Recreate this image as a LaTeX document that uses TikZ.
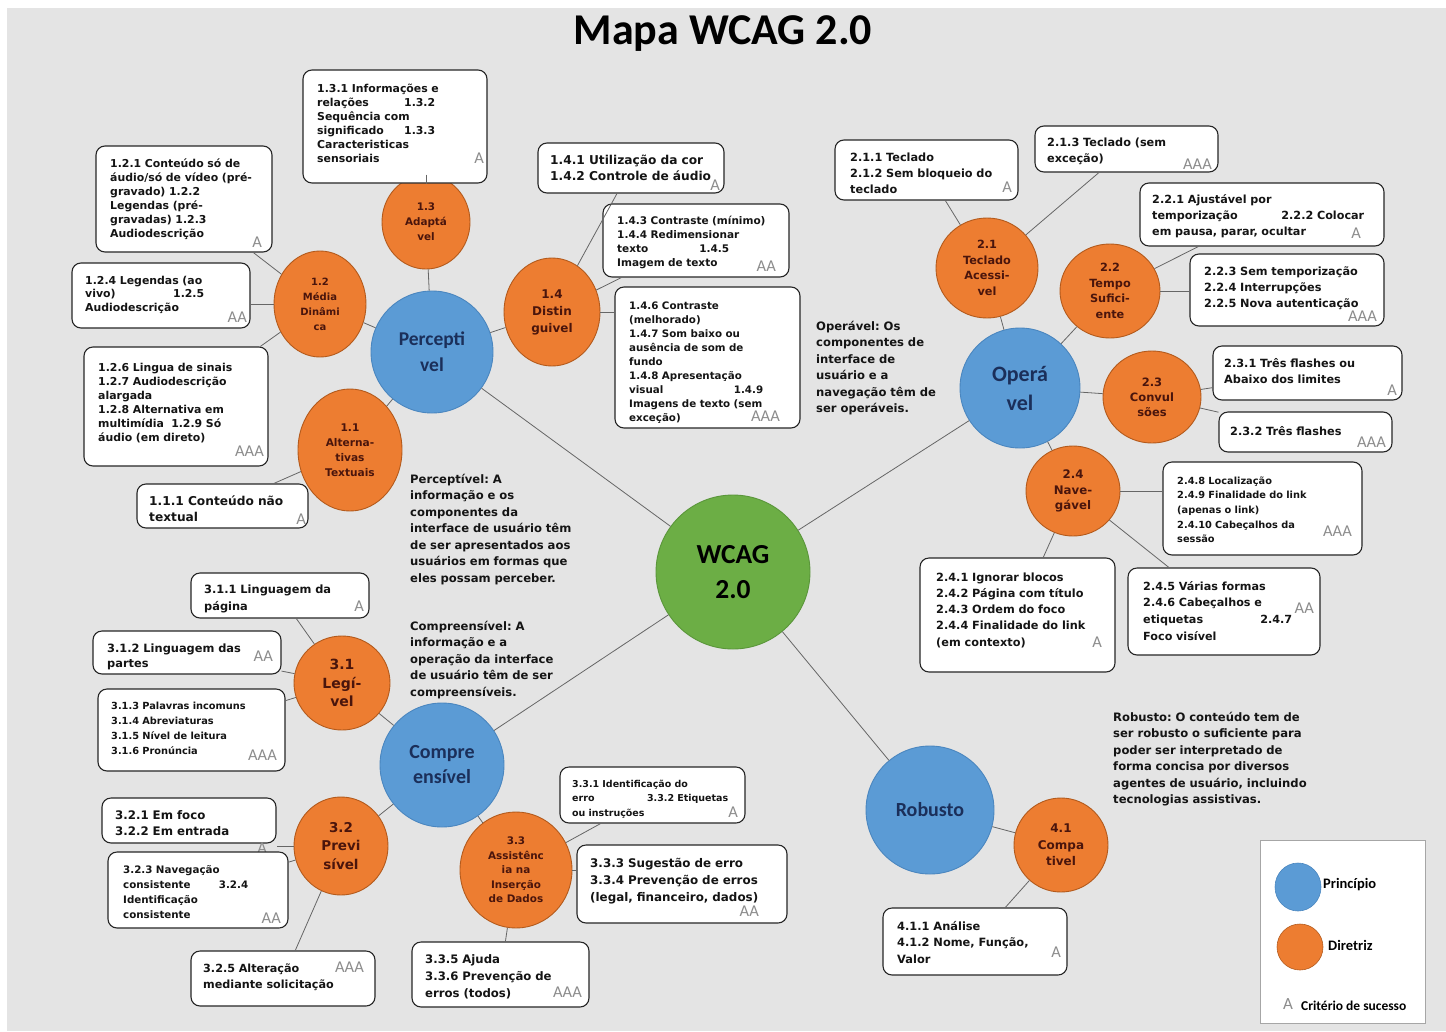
\documentclass[tikz,border=0pt]{standalone}
\usepackage{fontspec}
\setmainfont{DejaVu Sans}
\newfontfamily\calfont{Carlito}
\usetikzlibrary{shapes.geometric,fit}
\frenchspacing

\definecolor{bggray}{HTML}{E4E4E4}
\definecolor{pblue}{HTML}{5B9BD5}
\definecolor{pblueedge}{HTML}{4A86BF}
\definecolor{gorange}{HTML}{ED7D31}
\definecolor{gorangeedge}{HTML}{B35A1C}
\definecolor{wgreen}{HTML}{6CAE45}
\definecolor{wgreenedge}{HTML}{5A963A}
\definecolor{navy}{HTML}{1B2F5A}
\definecolor{maroon}{HTML}{4A150C}
\definecolor{critgray}{HTML}{8C8C8C}
\definecolor{linkgray}{HTML}{666666}

\newcommand\fs[2]{\fontsize{#1}{#2}\selectfont}
% a line with a wide justified gap between its two parts
\newcommand\spread[3]{\makebox[#1pt][l]{#2\hfill #3}}

\tikzset{
  principle/.style={ellipse, fill=pblue, draw=pblueedge, line width=0.9pt,
    inner sep=0pt, text=navy, align=center},
  guide/.style={ellipse, fill=gorange, draw=gorangeedge, line width=0.9pt,
    inner sep=0pt, text=maroon, align=center},
  cbox/.style={rectangle, rounded corners=9pt, draw=black!85, line width=1.1pt,
    fill=white, inner sep=0pt},
  ctext/.style={anchor=base west, inner sep=0pt, align=left, text width=#1pt,
    text=black!92},
  level/.style={anchor=east, inner sep=0pt, text=critgray,
    font=\calfont\fs{16.5}{16}},
  conn/.style={draw=linkgray, line width=0.8pt},
  para/.style={anchor=base west, inner sep=0pt, align=left, text width=#1pt,
    text=black!92, font=\bfseries\fs{11.6}{16.5}},
}

\begin{document}
\begin{tikzpicture}[x=1pt,y=-1pt]
\useasboundingbox (0,0) rectangle (1446,1031);
\fill[white] (0,0) rectangle (1446,1031);
\fill[bggray] (7,8) rectangle (1446,1031);

% title
\node[inner sep=0pt, font=\calfont\bfseries\fs{44}{44}] (title) at (723,34) {Mapa WCAG 2.0};

% ---------------- circles ----------------
\node[ellipse, fill=wgreen, draw=wgreenedge, line width=0.9pt, inner sep=0pt,
  minimum width=154pt, minimum height=154pt, align=center,
  font=\calfont\bfseries\fs{27.5}{35}] (wcag) at (733,572) {WCAG\\2.0};

\node[principle, minimum width=122pt, minimum height=122pt,
  font=\calfont\bfseries\fs{19.5}{26}] (perc) at (432,352) {Percepti\\vel};
\node[principle, minimum width=120pt, minimum height=120pt,
  font=\calfont\bfseries\fs{22}{29}] (oper) at (1020,388) {Operá\\vel};
\node[principle, minimum width=124pt, minimum height=124pt,
  font=\calfont\bfseries\fs{20}{25}] (comp) at (442,765) {Compre\\ensível};
\node[principle, minimum width=128pt, minimum height=128pt,
  font=\calfont\bfseries\fs{20}{25}] (rob) at (930,810) {Robusto};

\node[guide, minimum width=88pt, minimum height=94pt, font=\bfseries\fs{10.4}{15}] (n13) at (426,222) {1.3\\Adaptá\\vel};
\node[guide, minimum width=92pt, minimum height=106pt, font=\bfseries\fs{10}{15}] (n12) at (320,304) {1.2\\Média\\Dinâmi\\ca};
\node[guide, minimum width=96pt, minimum height=108pt, font=\bfseries\fs{12}{17}] (n14) at (552,312) {1.4\\Distin\\guivel};
\node[guide, minimum width=104pt, minimum height=122pt, font=\bfseries\fs{10.6}{15}] (n11) at (350,450) {1.1\\Alterna-\\tivas\\Textuais};

\node[guide, minimum width=102pt, minimum height=100pt, font=\bfseries\fs{11.3}{15.5}] (n21) at (987,268) {2.1\\Teclado\\Acessi-\\vel};
\node[guide, minimum width=100pt, minimum height=94pt, font=\bfseries\fs{11.3}{15.5}] (n22) at (1110,291) {2.2\\Tempo\\Sufici-\\ente};
\node[guide, minimum width=98pt, minimum height=92pt, font=\bfseries\fs{11.5}{15}] (n23) at (1152,397) {2.3\\Convul\\sões};
\node[guide, minimum width=94pt, minimum height=90pt, font=\bfseries\fs{11.8}{15.5}] (n24) at (1073,491) {2.4\\Nave-\\gável};

\node[guide, minimum width=96pt, minimum height=94pt, font=\bfseries\fs{14}{18.5}] (n31) at (342,683) {3.1\\Legí-\\vel};
\node[guide, minimum width=94pt, minimum height=98pt, font=\bfseries\fs{13.5}{18.5}] (n32) at (341,846) {3.2\\Previ\\sível};
\node[guide, minimum width=112pt, minimum height=116pt, font=\bfseries\fs{10.4}{14.5}] (n33) at (516,870) {3.3\\Assistênc\\ia na\\Inserção\\de Dados};
\node[guide, minimum width=94pt, minimum height=94pt, font=\bfseries\fs{12}{16.5}] (n41) at (1061,845) {4.1\\Compa\\tivel};

% ---------------- success criteria boxes ----------------
\node[cbox, fit={(303,70) (487,183)}] (b131) {};
\node[ctext=160, font=\bfseries\fs{10.9}{14}] (t131) at (317,92)
  {1.3.1 Informações e\\\spread{118}{relações}{1.3.2}\\Sequência com\\\spread{118}{significado}{1.3.3}\\Caracteristicas\\sensoriais};
\node[level] (l131) at (484,158) {A};

\node[cbox, fit={(96,146) (272,252)}] (b121) {};
\node[ctext=160, font=\bfseries\fs{10.9}{14}] (t121) at (110,167)
  {1.2.1 Conteúdo só de\\áudio/só de vídeo (pré-\\gravado) 1.2.2\\Legendas (pré-\\gravadas) 1.2.3\\Audiodescrição};
\node[level] (l121) at (262,242) {A};

\node[cbox, fit={(72,263) (250,328)}] (b124) {};
\node[ctext=160, font=\bfseries\fs{10.9}{13.5}] (t124) at (85,284)
  {1.2.4 Legendas (ao\\\spread{119}{vivo)}{1.2.5}\\Audiodescrição};
\node[level] (l124) at (247,317) {AA};

\node[cbox, fit={(84,347) (268,466)}] (b126) {};
\node[ctext=165, font=\bfseries\fs{10.9}{14}] (t126) at (98,371)
  {1.2.6 Lingua de sinais\\1.2.7 Audiodescrição\\alargada\\1.2.8 Alternativa em\\multimídia\ \ 1.2.9 Só\\áudio (em direto)};
\node[level] (l126) at (264,451) {AAA};

\node[cbox, fit={(137,484) (308,528)}] (b111) {};
\node[ctext=155, font=\bfseries\fs{12.2}{16}] (t111) at (149,505)
  {1.1.1 Conteúdo não\\textual};
\node[level] (l111) at (306,519) {A};

\node[cbox, fit={(538,143) (724,193)}] (b141) {};
\node[ctext=175, font=\bfseries\fs{12.2}{16}] (t141) at (550,164)
  {1.4.1 Utilização da cor\\1.4.2 Controle de áudio};
\node[level] (l141) at (720,185) {A};

\node[cbox, fit={(603,204) (789,277)}] (b143) {};
\node[ctext=170, font=\bfseries\fs{10.5}{14}] (t143) at (617,224)
  {1.4.3 Contraste (mínimo)\\1.4.4 Redimensionar\\\spread{112}{texto}{1.4.5}\\Imagem de texto};
\node[level] (l143) at (776,266) {AA};

\node[cbox, fit={(615,287) (800,428)}] (b146) {};
\node[ctext=165, font=\bfseries\fs{10.3}{14}] (t146) at (629,309)
  {1.4.6 Contraste\\(melhorado)\\1.4.7 Som baixo ou\\ausência de som de\\fundo\\1.4.8 Apresentação\\\spread{134}{visual}{1.4.9}\\Imagens de texto (sem\\exceção)};
\node[level] (l146) at (780,416) {AAA};

\node[cbox, fit={(835,140) (1018,200)}] (b211) {};
\node[ctext=165, font=\bfseries\fs{11.3}{16}] (t211) at (850,161)
  {2.1.1 Teclado\\2.1.2 Sem bloqueio do\\teclado};
\node[level] (l211) at (1012,187) {A};

\node[cbox, fit={(1035,126) (1218,172)}] (b213) {};
\node[ctext=165, font=\bfseries\fs{11.3}{16}] (t213) at (1047,146)
  {2.1.3 Teclado (sem\\exceção)};
\node[level] (l213) at (1212,164) {AAA};

\node[cbox, fit={(1140,183) (1384,246)}] (b221) {};
\node[ctext=225, font=\bfseries\fs{11.2}{16}] (t221) at (1152,203)
  {2.2.1 Ajustável por\\\spread{212}{temporização}{2.2.2 Colocar}\\em pausa, parar, ocultar};
\node[level] (l221) at (1361,233) {A};

\node[cbox, fit={(1190,254) (1384,326)}] (b223) {};
\node[ctext=178, font=\bfseries\fs{11.3}{16}] (t223) at (1204,275)
  {2.2.3 Sem temporização\\2.2.4 Interrupções\\2.2.5 Nova autenticação};
\node[level] (l223) at (1377,316) {AAA};

\node[cbox, fit={(1213,346) (1402,400)}] (b231) {};
\node[ctext=170, font=\bfseries\fs{11.3}{16}] (t231) at (1224,367)
  {2.3.1 Três flashes ou\\Abaixo dos limites};
\node[level] (l231) at (1397,390) {A};

\node[cbox, fit={(1219,412) (1392,452)}] (b232) {};
\node[ctext=150, font=\bfseries\fs{11.3}{16}] (t232) at (1230,435)
  {2.3.2 Três flashes};
\node[level] (l232) at (1386,442) {AAA};

\node[cbox, fit={(1163,462) (1362,555)}] (b248) {};
\node[ctext=170, font=\bfseries\fs{9.8}{14.7}] (t248) at (1177,484)
  {2.4.8 Localização\\2.4.9 Finalidade do link\\(apenas o link)\\2.4.10 Cabeçalhos da\\sessão};
\node[level] (l248) at (1352,531) {AAA};

\node[cbox, fit={(920,558) (1115,672)}] (b241) {};
\node[ctext=175, font=\bfseries\fs{11.3}{16.3}] (t241) at (936,581)
  {2.4.1 Ignorar blocos\\2.4.2 Página com título\\2.4.3 Ordem do foco\\2.4.4 Finalidade do link\\(em contexto)};
\node[level] (l241) at (1102,642) {A};

\node[cbox, fit={(1128,568) (1320,655)}] (b245) {};
\node[ctext=170, font=\bfseries\fs{11.2}{16.7}] (t245) at (1143,590)
  {2.4.5 Várias formas\\2.4.6 Cabeçalhos e\\\spread{149}{etiquetas}{2.4.7}\\Foco visível};
\node[level] (l245) at (1314,608) {AA};

\node[cbox, fit={(191,573) (369,618)}] (b311) {};
\node[ctext=160, font=\bfseries\fs{11.4}{17}] (t311) at (204,593)
  {3.1.1 Linguagem da\\página};
\node[level] (l311) at (364,606) {A};

\node[cbox, fit={(93,631) (281,674)}] (b312) {};
\node[ctext=170, font=\bfseries\fs{11.4}{15}] (t312) at (107,652)
  {3.1.2 Linguagem das\\partes};
\node[level] (l312) at (273,656) {AA};

\node[cbox, fit={(98,689) (285,771)}] (b313) {};
\node[ctext=170, font=\bfseries\fs{9.8}{15}] (t313) at (111,709)
  {3.1.3 Palavras incomuns\\3.1.4 Abreviaturas\\3.1.5 Nível de leitura\\3.1.6 Pronúncia};
\node[level] (l313) at (277,755) {AAA};

\node[cbox, fit={(102,798) (276,843)}] (b321) {};
\node[ctext=160, font=\bfseries\fs{11.8}{16}] (t321) at (115,819)
  {3.2.1 Em foco\\3.2.2 Em entrada};
\node[level] (l321) at (267,848) {A};

\node[cbox, fit={(108,852) (288,928)}] (b323) {};
\node[ctext=160, font=\bfseries\fs{10.3}{15}] (t323) at (123,873)
  {3.2.3 Navegação\\\spread{125}{consistente}{3.2.4}\\Identificação\\consistente};
\node[level] (l323) at (281,918) {AA};

\node[cbox, fit={(191,951) (375,1006)}] (b325) {};
\node[ctext=170, font=\bfseries\fs{11.2}{16}] (t325) at (203,972)
  {3.2.5 Alteração\\mediante solicitação};
\node[level] (l325) at (364,967) {AAA};

\node[cbox, fit={(560,767) (745,823)}] (b331) {};
\node[ctext=170, font=\bfseries\fs{9.5}{14.5}] (t331) at (572,787)
  {3.3.1 Identificação do\\\spread{156}{erro}{3.3.2 Etiquetas}\\ou instruções};
\node[level] (l331) at (738,812) {A};

\node[cbox, fit={(577,845) (787,923)}] (b333) {};
\node[ctext=190, font=\bfseries\fs{11.9}{17}] (t333) at (590,867)
  {3.3.3 Sugestão de erro\\3.3.4 Prevenção de erros\\(legal, financeiro, dados)};
\node[level] (l333) at (759,911) {AA};

\node[cbox, fit={(412,942) (589,1007)}] (b335) {};
\node[ctext=160, font=\bfseries\fs{11.7}{17}] (t335) at (425,963)
  {3.3.5 Ajuda\\3.3.6 Prevenção de\\erros (todos)};
\node[level] (l335) at (582,992) {AAA};

\node[cbox, fit={(883,908) (1067,975)}] (b411) {};
\node[ctext=165, font=\bfseries\fs{11.4}{16.5}] (t411) at (897,930)
  {4.1.1 Análise\\4.1.2 Nome, Função,\\Valor};
\node[level] (l411) at (1061,952) {A};

% ---------------- connectors ----------------
\draw[conn] (wcag) -- (perc);
\draw[conn] (wcag) -- (oper);
\draw[conn] (wcag) -- (comp);
\draw[conn] (wcag) -- (rob);

\draw[conn] (perc) -- (n13);
\draw[conn] (perc) -- (n12);
\draw[conn] (perc) -- (n14);
\draw[conn] (perc) -- (n11);
\draw[conn] (n13) -- (b131.south -| n13);
\draw[conn] (n12) -- (b121);
\draw[conn] (n12) -- (b124.east |- n12);
\draw[conn] (n12) -- (b126);
\draw[conn] (n11) -- (b111);
\draw[conn] (n14) -- (b141);
\draw[conn] (n14) -- (b143);
\draw[conn] (n14) -- (b146.west |- n14);

\draw[conn] (oper) -- (n21);
\draw[conn] (oper) -- (n22);
\draw[conn] (oper) -- (n23);
\draw[conn] (oper) -- (n24);
\draw[conn] (n21) -- (b211);
\draw[conn] (n21) -- (b213);
\draw[conn] (n22) -- (b221);
\draw[conn] (n22) -- (b223.west |- n22);
\draw[conn] (n23) -- (b231);
\draw[conn] (n23) -- (b232);
\draw[conn] (n24) -- (b248.west |- n24);
\draw[conn] (n24) -- (b241);
\draw[conn] (n24) -- (b245);

\draw[conn] (comp) -- (n31);
\draw[conn] (comp) -- (n32);
\draw[conn] (comp) -- (n33);
\draw[conn] (n31) -- (b311);
\draw[conn] (n31) -- (b312);
\draw[conn] (n31) -- (b313);
\draw[conn] (n32) -- (b321.east |- n32);
\draw[conn] (n32) -- (b323);
\draw[conn] (n32) -- (b325);
\draw[conn] (n33) -- (b331);
\draw[conn] (n33) -- (b333.west |- n33);
\draw[conn] (n33) -- (b335);

\draw[conn] (rob) -- (n41);
\draw[conn] (n41) -- (b411);

% ---------------- principle descriptions ----------------
\node[para=180] (dperc) at (410,483)
  {Perceptível: A\\informação e os\\componentes da\\interface de usuário têm\\de ser apresentados aos\\usuários em formas que\\eles possam perceber.};
\node[para=180] (dcomp) at (410,630)
  {Compreensível: A\\informação e a\\operação da interface\\de usuário têm de ser\\compreensíveis.};
\node[para=140] (doper) at (816,330)
  {Operável: Os\\componentes de\\interface de\\usuário e a\\navegação têm de\\ser operáveis.};
\node[para=220] (drob) at (1113,721)
  {Robusto: O conteúdo tem de\\ser robusto o suficiente para\\poder ser interpretado de\\forma concisa por diversos\\agentes de usuário, incluindo\\tecnologias assistivas.};

% ---------------- legend ----------------
\node[rectangle, fill=white, draw=black!35, line width=0.6pt, inner sep=0pt,
  fit={(1260,840) (1425,1023)}] (legend) {};
\node[ellipse, fill=pblue, draw=pblueedge, line width=0.6pt, inner sep=0pt,
  minimum width=46pt, minimum height=48pt] (legp) at (1298,887) {};
\node[ellipse, fill=gorange, draw=gorangeedge, line width=0.6pt, inner sep=0pt,
  minimum width=46pt, minimum height=46pt] (legg) at (1300,947) {};
\node[anchor=west, inner sep=0pt, font=\calfont\bfseries\fs{14.5}{15}] (legpt) at (1323,885) {Princípio};
\node[anchor=west, inner sep=0pt, font=\calfont\bfseries\fs{14.5}{15}] (leggt) at (1328,945) {Diretriz};
\node[anchor=west, inner sep=0pt, text=critgray, font=\calfont\fs{17}{17}] (legc) at (1283,1004) {A};
\node[anchor=west, inner sep=0pt, font=\calfont\bfseries\fs{13.5}{14}] (legct) at (1301,1006) {Critério de sucesso};
\end{tikzpicture}
\end{document}
